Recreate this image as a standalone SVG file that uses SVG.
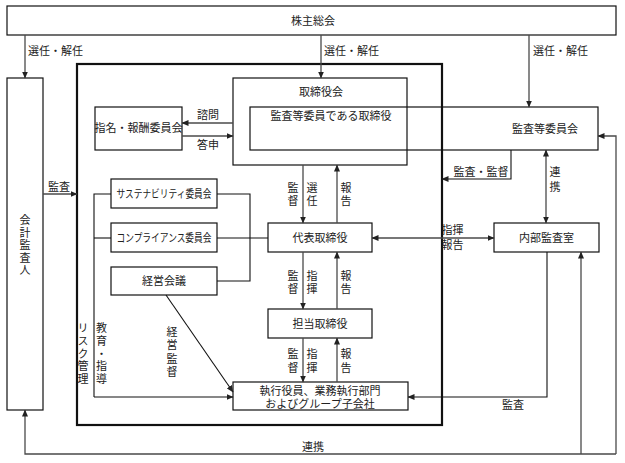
<svg xmlns="http://www.w3.org/2000/svg" width="625" height="463" viewBox="0 0 625 463">
<style>
text{font-family:"Noto Sans CJK JP","Noto Sans CJK SC",sans-serif;font-size:11px;fill:#222}
.c{text-anchor:middle}
.v{writing-mode:vertical-rl;text-anchor:start}
.box{fill:#fff;stroke:#111;stroke-width:1.2}
.ln{fill:none;stroke:#4a4a4a;stroke-width:1.3}
.bk{fill:none;stroke:#111;stroke-width:1.1}
.ar{marker-end:url(#ah)}
.dbl{marker-start:url(#ah);marker-end:url(#ah)}
</style>
<defs>
<marker id="ah" markerUnits="userSpaceOnUse" markerWidth="7" markerHeight="6" refX="6.5" refY="3" orient="auto-start-reverse"><path d="M0,0 L7,3 L0,6 z" fill="#222"/></marker>
</defs>
<rect width="625" height="463" fill="#fff"/>
<g id="outer"><rect x="77" y="64" width="365" height="361" fill="none" stroke="#111" stroke-width="2.2"/></g>
<g id="kabunushi"><rect class="box" x="7" y="6" width="609" height="29"/><text class="c" x="313" y="25">株主総会</text></g>
<g id="kaikei"><rect class="box" x="7" y="78" width="36" height="332"/>
<text class="v" x="25" y="214.5" letter-spacing="1.5">会計監査人</text></g>
<g id="torishimariyakukai"><rect class="box" x="233" y="78" width="174" height="87"/><text class="c" x="321" y="96">取締役会</text></g>
<g id="kansatou"><rect x="250" y="107" width="348" height="43" fill="none" stroke="#111" stroke-width="1.2"/><text class="c" x="331" y="120">監査等委員である取締役</text><text class="c" x="545" y="133">監査等委員会</text></g>
<g id="shimei"><rect class="box" x="95" y="107" width="87" height="43"/><text class="c" x="138.5" y="132">指名・報酬委員会</text></g>
<g id="sustain"><rect class="box" x="111" y="179" width="106" height="29"/><text class="c" x="164" y="198" textLength="95" lengthAdjust="spacingAndGlyphs">サステナビリティ委員会</text></g>
<g id="compliance"><rect class="box" x="111" y="223" width="106" height="29"/><text class="c" x="164" y="242" textLength="95" lengthAdjust="spacingAndGlyphs">コンプライアンス委員会</text></g>
<g id="keiei"><rect class="box" x="111" y="267" width="106" height="28"/><text class="c" x="164" y="285">経営会議</text></g>
<g id="daihyo"><rect class="box" x="268" y="223" width="104" height="29"/><text class="c" x="320" y="242">代表取締役</text></g>
<g id="tanto"><rect class="box" x="268" y="309" width="104" height="29"/><text class="c" x="320" y="328">担当取締役</text></g>
<g id="shikko"><rect class="box" x="233" y="382" width="175" height="28"/><text class="c" x="320" y="395">執行役員、業務執行部門<tspan x="320" y="408">およびグループ子会社</tspan></text></g>
<g id="naibu"><rect class="box" x="494" y="223" width="105" height="29"/><text class="c" x="546.5" y="242">内部監査室</text></g>
<g id="connectors">
<path class="ln ar" d="M25,35 V78"/>
<path class="ln ar" d="M321,35 V78"/>
<path class="ln ar" d="M529,35 V107"/>
<path class="ln ar" d="M43,194 H77"/>
<path class="ln ar" d="M233,123 H182"/>
<path class="ln ar" d="M182,136 H233"/>
<path class="bk" d="M111,194 H94 V397"/>
<path class="bk ar" d="M94,397 H233"/>
<path class="bk" d="M94,238 H111"/>
<path class="bk" d="M217,194 H250 V281 H217"/>
<path class="bk" d="M217,238 H268"/>
<path class="bk ar" d="M166,295 L233,392"/>
<path class="ln ar" d="M303,165 V223"/>
<path class="ln ar" d="M337,223 V165"/>
<path class="ln ar" d="M303,252 V309"/>
<path class="ln ar" d="M337,309 V252"/>
<path class="ln ar" d="M303,338 V382"/>
<path class="ln ar" d="M337,382 V338"/>
<path class="ln dbl" d="M372,238 H494"/>
<path class="bk ar" d="M511,150 V179 H442"/>
<path class="ln dbl" d="M546,150 V223"/>
<path class="bk ar" d="M547,252 V397 H408"/>
<path class="ln ar" d="M581,454 V252"/>
<path class="ln ar" d="M616,454 H25 V410"/>
<path class="ln ar" d="M616,454 V136 H598"/>
</g>
<g id="labels">
<text x="28" y="55">選任・解任</text>
<text x="324" y="55">選任・解任</text>
<text x="533" y="55">選任・解任</text>
<text class="c" x="59" y="191">監査</text>
<text class="c" x="208" y="119">諮問</text>
<text class="c" x="208" y="149">答申</text>
<text class="v" x="83" y="322.5" letter-spacing="1.75">リスク管理</text>
<text class="v" x="101.5" y="322.5" letter-spacing="1.75">教育・指導</text>
<text class="v" x="172" y="326.5" letter-spacing="2.3">経営監督</text>
<text class="v" x="293" y="182.5" letter-spacing="2">監督</text>
<text class="v" x="312" y="182.5" letter-spacing="2">選任</text>
<text class="v" x="346" y="182.5" letter-spacing="2">報告</text>
<text class="v" x="293" y="270.5" letter-spacing="2">監督</text>
<text class="v" x="312" y="270.5" letter-spacing="2">指揮</text>
<text class="v" x="346" y="270.5" letter-spacing="2">報告</text>
<text class="v" x="293" y="348.5" letter-spacing="3">監督</text>
<text class="v" x="312" y="348.5" letter-spacing="3">指揮</text>
<text class="v" x="346" y="348.5" letter-spacing="3">報告</text>
<text class="c" x="452.5" y="234">指揮</text>
<text class="c" x="452.5" y="249">報告</text>
<text class="c" x="481" y="176">監査・監督</text>
<text class="v" x="555" y="166.5" letter-spacing="4">連携</text>
<text class="c" x="513" y="409">監査</text>
<text class="c" x="313" y="451">連携</text>
</g>
</svg>
